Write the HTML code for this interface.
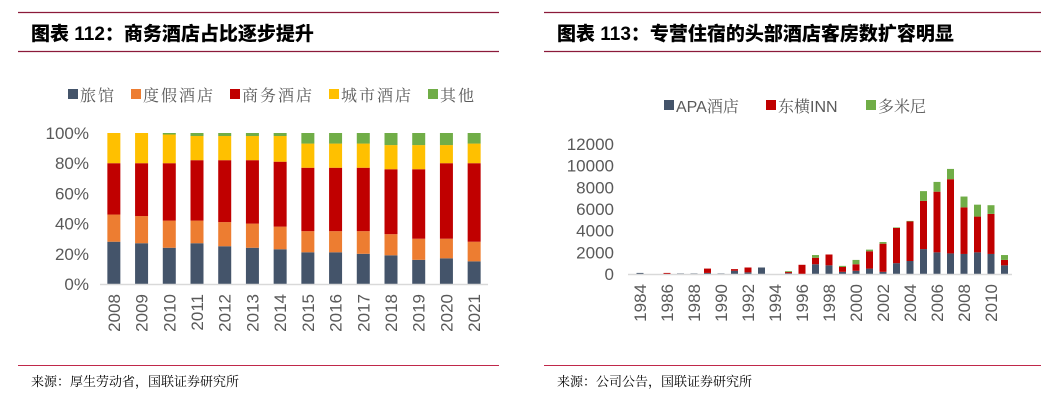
<!DOCTYPE html>
<html><head><meta charset="utf-8"><style>
body{margin:0;background:#fff;}
svg{display:block;font-family:"Liberation Sans","Noto Sans CJK SC",sans-serif;}
.t{font-weight:900;font-size:19px;fill:#000;font-family:"Liberation Sans","Noto Sans CJK SC",sans-serif;}
.ax{font-size:17px;fill:#595959;}
.lg{font-size:16px;fill:#595959;font-family:"Liberation Sans","Noto Serif CJK SC",serif;}
.src{font-size:13px;fill:#000;font-family:"Liberation Serif","Noto Serif CJK SC",serif;}
</style></head><body>
<svg id="s" width="1056" height="401" viewBox="0 0 1056 401">
<g>
<line x1="18" y1="12.5" x2="499" y2="12.5" stroke="#8b1a3a" stroke-width="1.2"/>
<text class="t" x="31" y="40">图表 112：商务酒店占比逐步提升</text>
<line x1="18" y1="51.5" x2="499" y2="51.5" stroke="#8b1a3a" stroke-width="1.2"/>
<line x1="18" y1="365.5" x2="499" y2="365.5" stroke="#c0284a" stroke-width="1"/>
<text class="src" x="31" y="386">来源：厚生劳动省，国联证券研究所</text>
</g>
<g>
<line x1="544" y1="12.5" x2="1041" y2="12.5" stroke="#8b1a3a" stroke-width="1.2"/>
<text class="t" x="557" y="40">图表 113：专营住宿的头部酒店客房数扩容明显</text>
<line x1="544" y1="51.5" x2="1041" y2="51.5" stroke="#8b1a3a" stroke-width="1.2"/>
<line x1="544" y1="365.5" x2="1041" y2="365.5" stroke="#c0284a" stroke-width="1"/>
<text class="src" x="557" y="386">来源：公司公告，国联证券研究所</text>
</g>
<g id="left"></g>
<g id="right"></g>
</svg>
<script>
const NS="http://www.w3.org/2000/svg";
// Left chart data (percent segments)
const leftYears=["2008","2009","2010","2011","2012","2013","2014","2015","2016","2017","2018","2019","2020","2021"];
const ryokan=[28,27,24,27,25,24,23,21,21,20,19,16,17,15];
const resort=[18,18,18,15,16,16,15,14,14,15,14,14,13,13];
const business=[34,35,38,40,41,42,43,42,42,42,43,46,50,52];
const city=[20,20,19,16,16,16,17,16,16,16,16,16,12,13];
const other=[0,0,1,2,2,2,2,7,7,7,8,8,8,7];
const leftNames=["旅馆","度假酒店","商务酒店","城市酒店","其他"];
const leftTicks=["0%","20%","40%","60%","80%","100%"];
// Right chart data (rooms)
const rightYears=["1984","1985","1986","1987","1988","1989","1990","1991","1992","1993","1994","1995","1996","1997","1998","1999","2000","2001","2002","2003","2004","2005","2006","2007","2008","2009","2010","2011"];
const apa=[100,0,0,50,50,100,50,300,150,600,0,80,0,900,800,200,300,500,200,1000,1200,2300,2000,1900,1850,2000,1850,800];
const toyoko=[0,0,100,0,0,400,0,150,450,0,0,100,850,600,1000,450,600,1600,2600,3250,3650,4450,5600,6850,4300,3300,3700,500];
const dormy=[0,0,0,0,0,0,0,0,0,0,0,80,0,250,0,100,400,150,150,50,50,900,900,950,1000,1100,800,450];
const rightNames=["APA酒店","东横INN","多米尼"];
const rightTicks=["0","2000","4000","6000","8000","10000","12000"];
const C1=["#44546a","#ed7d31","#c00000","#ffc000","#70ad47"];
const C2=["#44546a","#c00000","#70ad47"];

function mk(p,tag,at){const e=document.createElementNS(NS,tag);for(const k in at)e.setAttribute(k,at[k]);p.appendChild(e);return e;}

// LEFT
(function(){
const g=document.getElementById('left');
const y0=284,y1=133,x0=100,x1=488;
const yS=v=>y0-(y0-y1)*v/100;
const step=(x1-x0)/leftYears.length;
const xS=i=>x0+step*(i+0.5);
leftTicks.forEach((t,i)=>{const tx=mk(g,'text',{x:89,y:yS(i*20)+6,'text-anchor':'end',class:'ax'});tx.textContent=t;

});
const series=[ryokan,resort,business,city,other];
leftYears.forEach((yr,i)=>{let acc=0;
series.forEach((s,k)=>{const v=s[i];if(v>0){const r=mk(g,'rect',{x:xS(i)-6.5,y:yS(acc+v),width:13,height:yS(acc)-yS(acc+v),fill:C1[k]});

}acc+=v;});
const tx=mk(g,'text',{transform:`translate(${xS(i)+6},${y0+10}) rotate(-90)`,'text-anchor':'end',class:'ax'});tx.textContent=yr;

});
const ax=mk(g,'line',{x1:x0,y1:y0+0.5,x2:x1,y2:y0+0.5,stroke:'#d9d9d9','stroke-width':1.5});


let lx=68;
leftNames.forEach((n,k)=>{mk(g,'rect',{x:lx,y:89,width:10,height:10,fill:C1[k]});
const tx=mk(g,'text',{x:lx+12,y:101,class:'lg','letter-spacing':'2'});tx.textContent=n;


lx+=12+n.length*18+15;});
})();

// RIGHT
(function(){
const g=document.getElementById('right');
const y0=274,y1=144,x0=628,x1=1012;
const yS=v=>y0-(y0-y1)*v/12000;
const step=13.5;
const xS=i=>640+step*i;
rightTicks.forEach((t,i)=>{const tx=mk(g,'text',{x:614,y:yS(i*2000)+6,'text-anchor':'end',class:'ax'});tx.textContent=t;

});
const series=[apa,toyoko,dormy];
rightYears.forEach((yr,i)=>{let acc=0;
series.forEach((s,k)=>{const v=s[i];if(v>0){const r=mk(g,'rect',{x:xS(i)-3.5,y:yS(acc+v),width:7,height:yS(acc)-yS(acc+v),fill:C2[k]});

}acc+=v;});
if(i%2===0){const tx=mk(g,'text',{transform:`translate(${xS(i)+6},${y0+10}) rotate(-90)`,'text-anchor':'end',class:'ax'});tx.textContent=yr;

}});
const ax=mk(g,'line',{x1:x0,y1:y0+0.5,x2:x1,y2:y0+0.5,stroke:'#d9d9d9','stroke-width':1.5});


const lxs=[664,766,866];
rightNames.forEach((n,k)=>{const lx=lxs[k];mk(g,'rect',{x:lx,y:100,width:10,height:10,fill:C2[k]});
const tx=mk(g,'text',{x:lx+12,y:112,class:'lg'});tx.textContent=n;

});
})();
</script>
</body></html>
